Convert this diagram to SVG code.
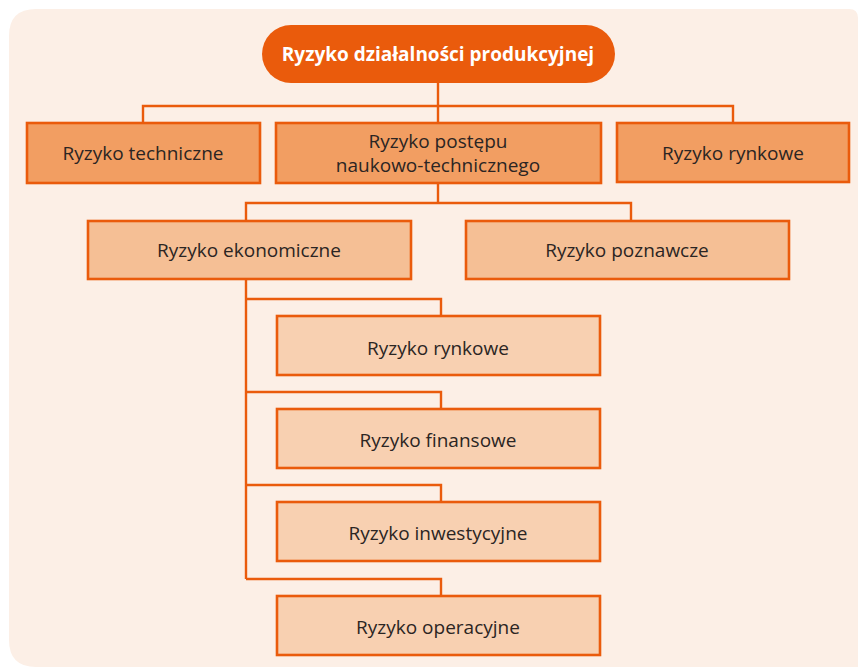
<svg xmlns="http://www.w3.org/2000/svg" width="859" height="667" viewBox="0 0 859 667">
  <defs>
    <style>
      .panel { fill: #FCEFE6; }
      .box { stroke: #EA5B0C; stroke-width: 2.6; }
      .l1 { fill: #F29E62; }
      .l2 { fill: #F5BF95; }
      .l3 { fill: #F8D0B1; }
      .conn { fill: none; stroke: #EA5B0C; stroke-width: 2.4; }
      .lbl { font-family: "Open Sans", "Liberation Sans", sans-serif; font-size: 19px; fill: #2B2523; text-anchor: middle; }
      .title { font-family: "Open Sans", "Liberation Sans", sans-serif; font-size: 19px; font-weight: bold; fill: #FFFFFF; text-anchor: middle; }
    </style>
  </defs>

  <rect width="859" height="667" fill="#FFFFFF"/>
  <!-- background panel -->
  <path class="panel" d="M9,36 Q9,9 36,9 L849,9 Q858,9 858,18 L858,667 L36,667 Q9,667 9,640 Z"/>

  <!-- connectors -->
  <g id="connectors">
    <path class="conn" d="M438,83 V122"/>
    <path class="conn" d="M143,122 V106 H733 V122"/>
    <path class="conn" d="M438,183 V203"/>
    <path class="conn" d="M246,221 V203 H631 V221"/>
    <path class="conn" d="M246,280 V579"/>
    <path class="conn" d="M246,299 H441 V316"/>
    <path class="conn" d="M246,392 H441 V409"/>
    <path class="conn" d="M246,485 H441 V502"/>
    <path class="conn" d="M246,579 H441 V596"/>
  </g>

  <!-- root -->
  <g id="root">
    <rect x="262" y="25" width="353" height="58" rx="29" fill="#EA5B0C"/>
    <text class="title" x="438" y="61">Ryzyko działalności produkcyjnej</text>
  </g>

  <!-- level 1 -->
  <g id="techniczne">
    <rect class="box l1" x="27" y="123" width="233" height="60"/>
    <text class="lbl" x="143" y="160">Ryzyko techniczne</text>
  </g>
  <g id="postep">
    <rect class="box l1" x="276" y="123" width="325" height="60"/>
    <text class="lbl" x="438" y="148">Ryzyko postępu</text>
    <text class="lbl" x="438" y="172">naukowo-technicznego</text>
  </g>
  <g id="rynkowe-1">
    <rect class="box l1" x="617" y="123" width="232" height="59"/>
    <text class="lbl" x="733" y="160">Ryzyko rynkowe</text>
  </g>

  <!-- level 2 -->
  <g id="ekonomiczne">
    <rect class="box l2" x="88" y="221" width="323" height="58"/>
    <text class="lbl" x="249" y="257">Ryzyko ekonomiczne</text>
  </g>
  <g id="poznawcze">
    <rect class="box l2" x="466" y="221" width="323" height="58"/>
    <text class="lbl" x="627" y="257">Ryzyko poznawcze</text>
  </g>

  <!-- level 3 -->
  <g id="rynkowe-2">
    <rect class="box l3" x="277" y="316" width="323" height="59"/>
    <text class="lbl" x="438" y="355">Ryzyko rynkowe</text>
  </g>
  <g id="finansowe">
    <rect class="box l3" x="277" y="409" width="323" height="59"/>
    <text class="lbl" x="438" y="447">Ryzyko finansowe</text>
  </g>
  <g id="inwestycyjne">
    <rect class="box l3" x="277" y="502" width="323" height="59"/>
    <text class="lbl" x="438" y="540">Ryzyko inwestycyjne</text>
  </g>
  <g id="operacyjne">
    <rect class="box l3" x="277" y="596" width="323" height="59"/>
    <text class="lbl" x="438" y="634">Ryzyko operacyjne</text>
  </g>
</svg>
